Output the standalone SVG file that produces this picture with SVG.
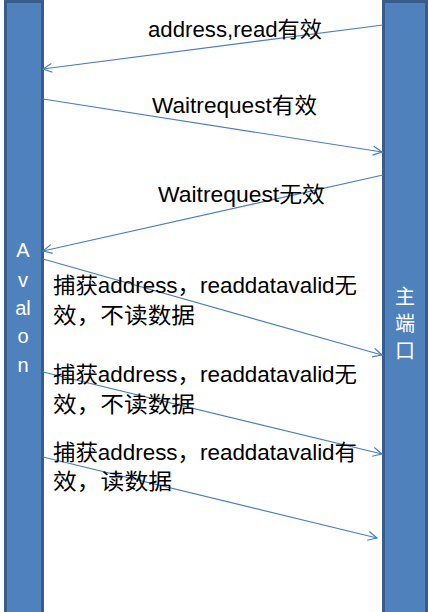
<svg xmlns="http://www.w3.org/2000/svg" width="428" height="612" viewBox="0 0 428 612">
<style>
.bar{fill:#4F81BD;stroke:#385D8A;stroke-width:3}
.lbl{font-family:"Liberation Sans","Noto Sans CJK SC",sans-serif;font-size:21.5px;fill:#000}
.bl{font-family:"Liberation Sans","Noto Sans CJK SC",sans-serif;font-size:20px;fill:#fff;text-anchor:middle}
.con{stroke:#4A7EBB;stroke-width:1.2;fill:none;marker-end:url(#ah)}
</style>
<defs>
<marker id="ah" markerWidth="12" markerHeight="12" refX="10" refY="5" orient="auto" markerUnits="userSpaceOnUse">
<path d="M1,0.5 L10,5 L1,9.5" fill="none" stroke="#4A7EBB" stroke-width="1.2"/>
</marker>
</defs>
<rect width="428" height="612" fill="#fff"/>
<g id="avalon">
<rect class="bar" x="5.5" y="1.5" width="37" height="620"/>
<text class="bl" x="23" y="257">A</text>
<text class="bl" x="23" y="287">v</text>
<text class="bl" x="23" y="315">al</text>
<text class="bl" x="23" y="343">o</text>
<text class="bl" x="23" y="372">n</text>
</g>
<g id="master">
<rect class="bar" x="383.5" y="1.5" width="43" height="620"/>
<text class="bl" x="405" y="304">主</text>
<text class="bl" x="405" y="331">端</text>
<text class="bl" x="405" y="358">口</text>
</g>
<g id="connectors">
<line class="con" x1="383" y1="25" x2="43" y2="69"/>
<line class="con" x1="43" y1="99" x2="382" y2="152"/>
<line class="con" x1="383" y1="175" x2="43" y2="251"/>
<line class="con" x1="43" y1="259" x2="382" y2="355"/>
<line class="con" x1="43" y1="372" x2="382" y2="454"/>
<line class="con" x1="43" y1="457" x2="377" y2="538"/>
</g>
<g id="labels">
<text class="lbl" x="148" y="37" textLength="174" lengthAdjust="spacingAndGlyphs">address,read有效</text>
<text class="lbl" x="152" y="113" textLength="165" lengthAdjust="spacingAndGlyphs">Waitrequest有效</text>
<text class="lbl" x="158" y="202" textLength="167" lengthAdjust="spacingAndGlyphs">Waitrequest无效</text>
<text class="lbl" x="53" y="293" textLength="304" lengthAdjust="spacingAndGlyphs">捕获address，readdatavalid无</text>
<text class="lbl" x="53" y="323" textLength="142" lengthAdjust="spacingAndGlyphs">效，不读数据</text>
<text class="lbl" x="53" y="382" textLength="304" lengthAdjust="spacingAndGlyphs">捕获address，readdatavalid无</text>
<text class="lbl" x="53" y="412" textLength="142" lengthAdjust="spacingAndGlyphs">效，不读数据</text>
<text class="lbl" x="53" y="460" textLength="304" lengthAdjust="spacingAndGlyphs">捕获address，readdatavalid有</text>
<text class="lbl" x="53" y="489" textLength="119" lengthAdjust="spacingAndGlyphs">效，读数据</text>
</g>
</svg>
